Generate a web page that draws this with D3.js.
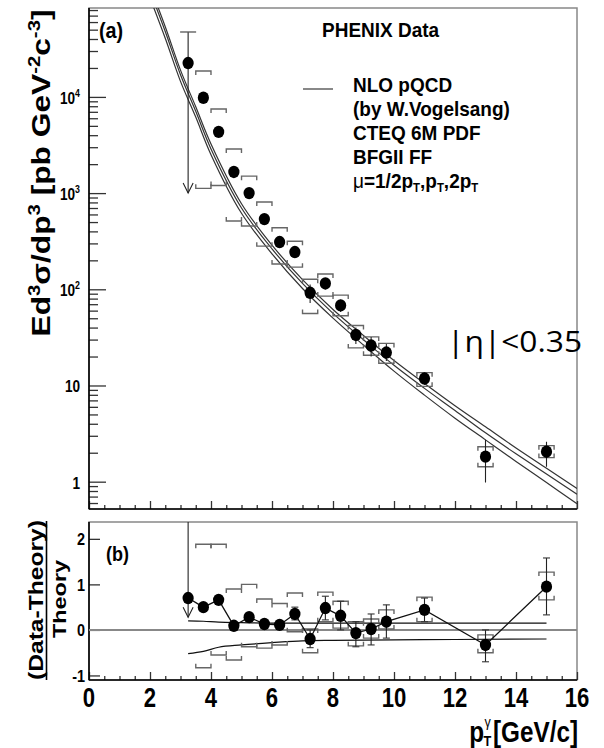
<!DOCTYPE html>
<html>
<head>
<meta charset="utf-8">
<script src="https://cdnjs.cloudflare.com/ajax/libs/d3/7.8.5/d3.min.js"></script>
<style>
body { margin: 0; background: #fff; }
svg { display: block; }
text { font-family: "Liberation Sans", Arial, sans-serif; font-weight: bold; fill: #000; }
</style>
</head>
<body>
<div class="chart"></div>
<script>
var width = 604, height = 748;
var left = 89, right = 577;
var topA = 8, bottomA = 509;
var topB = 522, bottomB = 680;

// PHENIX direct photon points
var pt = [3.25, 3.75, 4.25, 4.75, 5.25, 5.75, 6.25, 6.75, 7.25, 7.75, 8.25, 8.75, 9.25, 9.75, 11, 13, 15];
var xsec = [22500, 9800, 4330, 1660, 1000, 537, 310, 244, 92, 115, 68, 33.5, 26, 22, 11.8, 1.82, 2.05];
var statLo = [1000, 9000, 4000, 1550, 930, 500, 285, 220, 72, 100, 58, 27, 20, 18, 10.2, 0.98, 1.43];
var statHi = [47300, 10700, 4700, 1780, 1080, 575, 335, 270, 112, 130, 78, 40, 32, 27, 13.6, 2.73, 2.6];
var sysLo = [null, 1120, 1200, 512, 455, 281, 183, 170, 56, 85, 53, 24.6, 20.6, 17, 9.8, 1.43, 1.78];
var sysHi = [null, 18600, 7500, 2870, 1500, 807, 437, 316, 127, 144, 87, 42, 32, 27.4, 13.6, 2.31, 2.37];

// NLO pQCD curves for the three scales
var thPt = [2, 2.5, 3, 3.5, 4, 5, 6, 7, 8, 9, 10, 11, 12, 13, 14, 15, 16];
var thHigh = [141000, 53700, 19000, 7900, 3240, 776, 288, 126, 61.7, 33.1, 18.2, 10.5, 6.17, 3.72, 2.24, 1.38, 0.85];
var thMid = [126000, 47900, 17000, 7080, 2880, 700, 263, 115, 56.2, 29.9, 16.2, 9.33, 5.50, 3.22, 1.95, 1.20, 0.74];
var thLow = [107000, 40700, 14500, 6170, 2510, 617, 234, 102, 50.1, 26.3, 14.1, 7.94, 4.57, 2.72, 1.62, 0.98, 0.59];

// (Data-Theory)/Theory
var ratio = [0.70, 0.50, 0.66, 0.09, 0.28, 0.13, 0.11, 0.35, -0.20, 0.48, 0.31, -0.07, 0.02, 0.18, 0.44, -0.33, 0.95];
var rStatLo = [0.28, 0.45, 0.61, 0.04, 0.22, 0.08, 0.04, 0.22, -0.39, 0.22, 0.00, -0.37, -0.33, -0.18, 0.18, -0.70, 0.33];
var rStatHi = [2.6, 0.55, 0.71, 0.14, 0.34, 0.18, 0.18, 0.50, 0.00, 0.74, 0.63, 0.18, 0.35, 0.55, 0.70, 0.00, 1.58];
var rSysLo = [null, -0.83, -0.55, -0.66, -0.37, -0.40, -0.33, -0.04, -0.50, 0.18, 0.04, -0.35, -0.18, 0.02, 0.18, -0.50, 0.66];
var rSysHi = [null, 1.88, 1.88, 0.90, 1.00, 0.68, 0.58, 0.81, 0.02, 0.83, 0.63, 0.18, 0.24, 0.44, 0.72, -0.11, 1.27];

// scale band relative to the central theory
var bandPt = [3.25, 3.75, 4.25, 5, 6, 7, 8, 10, 12, 15];
var bandHigh = [0.20, 0.19, 0.17, 0.16, 0.15, 0.15, 0.15, 0.15, 0.15, 0.15];
var bandLow = [-0.52, -0.47, -0.38, -0.33, -0.28, -0.24, -0.23, -0.22, -0.21, -0.20];

var xTicks = [0, 2, 4, 6, 8, 10, 12, 14, 16];
var yTicksA = [1, 10, 100, 1000, 10000];
var yLabelsA = [["1", ""], ["10", ""], ["10", "2"], ["10", "3"], ["10", "4"]];
var yTicksB = [-1, 0, 1, 2];

var legendLines = ["NLO pQCD", "(by W.Vogelsang)", "CTEQ 6M PDF", "BFGII FF"];

var svg = d3.select(".chart").append("svg")
    .attr("width", width)
    .attr("height", height);

svg.append("rect").attr("width", width).attr("height", height).attr("fill", "#fff");

var x = d3.scaleLinear().domain([0, 16]).range([left, right]);
var yA = d3.scaleLog().domain([0.52, 84000]).range([bottomA, topA]);
var yB = d3.scaleLinear().domain([-1.1, 2.37]).range([bottomB, topB]);

var defs = svg.append("defs");
defs.append("clipPath").attr("id", "clipA").append("rect")
    .attr("x", left).attr("y", topA).attr("width", right - left).attr("height", bottomA - topA);
defs.append("clipPath").attr("id", "clipB").append("rect")
    .attr("x", left).attr("y", topB).attr("width", right - left).attr("height", bottomB - topB);

// squeezed text helper (ROOT fonts look narrow here)
var txt = function(g, px, py, sx, fs, anchor) {
    return g.append("text")
        .attr("transform", "translate(" + px + "," + py + ") scale(" + sx + ",1)")
        .attr("text-anchor", anchor)
        .style("font-size", fs + "px");
};

var styleAxis = function(g) {
    g.select(".domain").remove();
    g.selectAll(".tick line").attr("stroke", "#333").attr("stroke-width", 1.3);
};

// ---------- panel (a) ----------
svg.append("rect")
    .attr("x", left).attr("y", topA)
    .attr("width", right - left).attr("height", bottomA - topA)
    .attr("fill", "none").attr("stroke", "#888").attr("stroke-width", 1.5);

svg.append("g")
    .attr("transform", "translate(" + left + ",0)")
    .call(d3.axisRight(yA).tickValues(yTicksA).tickSize(17).tickFormat(""))
    .call(styleAxis);
svg.append("g")
    .attr("transform", "translate(" + left + ",0)")
    .call(d3.axisRight(yA).tickValues(yA.ticks().filter(function(d) {
        return yTicksA.indexOf(d) < 0;
    })).tickSize(9).tickFormat(""))
    .call(styleAxis);
svg.append("g")
    .attr("transform", "translate(0," + bottomA + ")")
    .call(d3.axisTop(x).tickValues(xTicks).tickSize(8).tickFormat(""))
    .call(styleAxis);
svg.append("g")
    .attr("transform", "translate(0," + bottomA + ")")
    .call(d3.axisTop(x).tickValues(d3.range(0.5, 16, 0.5).filter(function(d) {
        return d % 2 !== 0;
    })).tickSize(4).tickFormat(""))
    .call(styleAxis);

svg.append("line").attr("x1", left).attr("x2", left).attr("y1", topA).attr("y2", bottomA)
    .attr("stroke", "#000").attr("stroke-width", 1.6);
svg.append("line").attr("x1", left).attr("x2", right).attr("y1", bottomA).attr("y2", bottomA)
    .attr("stroke", "#000").attr("stroke-width", 1.6);

yTicksA.forEach(function(v, i) {
    var t = txt(svg, 80, yA(v) + 7, 0.8, 17, "end");
    t.append("tspan").text(yLabelsA[i][0]);
    if (yLabelsA[i][1]) {
        t.append("tspan").attr("dy", -7).style("font-size", "11px").text(yLabelsA[i][1]);
    }
});

var yTitle = svg.append("text")
    .attr("transform", "translate(50,173) rotate(-90)")
    .attr("text-anchor", "middle")
    .attr("textLength", 327)
    .attr("lengthAdjust", "spacingAndGlyphs")
    .style("font-size", "25px");
yTitle.append("tspan").text("Ed");
yTitle.append("tspan").attr("dy", -10).style("font-size", "16px").text("3");
yTitle.append("tspan").attr("dy", 10).text("σ/dp");
yTitle.append("tspan").attr("dy", -10).style("font-size", "16px").text("3");
yTitle.append("tspan").attr("dy", 10).text(" [pb GeV");
yTitle.append("tspan").attr("dy", -10).style("font-size", "16px").text("-2");
yTitle.append("tspan").attr("dy", 10).text("c");
yTitle.append("tspan").attr("dy", -10).style("font-size", "16px").text("-3");
yTitle.append("tspan").attr("dy", 10).text("]");

var plotA = svg.append("g").attr("clip-path", "url(#clipA)");

var theoryLine = d3.line()
    .x(function(d) { return x(d[0]); })
    .y(function(d) { return yA(d[1]); })
    .curve(d3.curveCatmullRom.alpha(0.5));

[thHigh, thMid, thLow].forEach(function(series) {
    plotA.append("path")
        .datum(thPt.map(function(p, i) { return [p, series[i]]; }))
        .attr("d", theoryLine)
        .attr("fill", "none")
        .attr("stroke", "#333")
        .attr("stroke-width", 1.2);
});

var bracket = function(g, cx, cy, dir) {
    g.append("path")
        .attr("d", "M" + (cx - 7.6) + "," + (cy + dir * 4) + "V" + cy + "H" + (cx + 7.6) + "V" + (cy + dir * 4))
        .attr("fill", "none").attr("stroke", "#666").attr("stroke-width", 1.4);
};

pt.forEach(function(p, i) {
    if (sysHi[i] !== null) {
        bracket(plotA, x(p), yA(sysHi[i]), 1);
        bracket(plotA, x(p), yA(sysLo[i]), -1);
    }
    plotA.append("line")
        .attr("x1", x(p)).attr("x2", x(p))
        .attr("y1", yA(statLo[i])).attr("y2", yA(statHi[i]))
        .attr("stroke", "#222").attr("stroke-width", 1.1);
});

// first point: upper limit arrow and cap
plotA.append("path")
    .attr("d", "M" + (x(pt[0]) - 5) + "," + (yA(statLo[0]) - 10) + "L" + x(pt[0]) + "," + yA(statLo[0]) + "L" + (x(pt[0]) + 5) + "," + (yA(statLo[0]) - 10))
    .attr("fill", "none").attr("stroke", "#222").attr("stroke-width", 1.1);
plotA.append("line")
    .attr("x1", x(pt[0]) - 8).attr("x2", x(pt[0]) + 8)
    .attr("y1", yA(statHi[0])).attr("y2", yA(statHi[0]))
    .attr("stroke", "#555").attr("stroke-width", 1.3);

plotA.selectAll(".dotA")
    .data(pt)
    .enter().append("ellipse")
    .attr("class", "dotA")
    .attr("cx", function(d) { return x(d); })
    .attr("cy", function(d, i) { return yA(xsec[i]); })
    .attr("rx", 5.6).attr("ry", 6.2)
    .attr("fill", "#000");

// labels in panel (a)
txt(svg, 99, 38, 0.9, 22, "start").text("(a)");
txt(svg, 322, 37, 0.95, 20, "start").text("PHENIX Data");
svg.append("line").attr("x1", 303).attr("x2", 333).attr("y1", 89).attr("y2", 89)
    .attr("stroke", "#555").attr("stroke-width", 1.4);
legendLines.forEach(function(s, i) {
    txt(svg, 353, 92 + i * 24, 0.95, 20, "start").text(s);
});
var mu = txt(svg, 353, 188, 0.95, 20, "start");
mu.append("tspan").style("font-weight", "normal").text("μ");
mu.append("tspan").text("=1/2p");
mu.append("tspan").attr("dy", 4).style("font-size", "12px").text("T");
mu.append("tspan").attr("dy", -4).text(",p");
mu.append("tspan").attr("dy", 4).style("font-size", "12px").text("T");
mu.append("tspan").attr("dy", -4).text(",2p");
mu.append("tspan").attr("dy", 4).style("font-size", "12px").text("T");

svg.append("text")
    .attr("x", 447).attr("y", 352)
    .attr("textLength", 135)
    .attr("lengthAdjust", "spacingAndGlyphs")
    .style("font-family", "'Open Sans', 'Noto Sans', sans-serif")
    .style("font-weight", "normal")
    .style("font-size", "29px")
    .text("|η|<0.35");

// ---------- panel (b) ----------
svg.append("rect")
    .attr("x", left).attr("y", topB)
    .attr("width", right - left).attr("height", bottomB - topB)
    .attr("fill", "none").attr("stroke", "#888").attr("stroke-width", 1.5);

svg.append("g")
    .attr("transform", "translate(" + left + ",0)")
    .call(d3.axisRight(yB).tickValues(yTicksB).tickSize(11).tickFormat(""))
    .call(styleAxis);
svg.append("g")
    .attr("transform", "translate(0," + bottomB + ")")
    .call(d3.axisTop(x).tickValues(xTicks).tickSize(8).tickFormat(""))
    .call(styleAxis);
svg.append("g")
    .attr("transform", "translate(0," + bottomB + ")")
    .call(d3.axisTop(x).tickValues(d3.range(0.5, 16, 0.5).filter(function(d) {
        return d % 2 !== 0;
    })).tickSize(4).tickFormat(""))
    .call(styleAxis);

svg.append("line").attr("x1", left).attr("x2", left).attr("y1", topB).attr("y2", bottomB)
    .attr("stroke", "#000").attr("stroke-width", 1.6);
svg.append("line").attr("x1", left).attr("x2", right).attr("y1", bottomB).attr("y2", bottomB)
    .attr("stroke", "#000").attr("stroke-width", 1.6);

yTicksB.forEach(function(v) {
    txt(svg, 85, yB(v) + 6.5, 0.85, 17, "end").text(v);
});
xTicks.forEach(function(v) {
    txt(svg, x(v), 707, 0.82, 27, "middle").text(v);
});

// p_T^gamma [GeV/c]
txt(svg, 578, 742, 0.81, 30, "end").text("[GeV/c]");
txt(svg, 484, 742, 0.81, 30, "end").text("p");
txt(svg, 483.5, 746, 0.85, 15, "start").text("T");
txt(svg, 484.5, 727, 0.9, 14, "start").style("font-weight", "normal").text("γ");

svg.append("text")
    .attr("transform", "translate(43,600) rotate(-90)")
    .attr("text-anchor", "middle")
    .attr("textLength", 160)
    .attr("lengthAdjust", "spacingAndGlyphs")
    .style("font-size", "20px")
    .text("(Data-Theory)");
svg.append("line").attr("x1", 46.5).attr("x2", 46.5).attr("y1", 521).attr("y2", 680)
    .attr("stroke", "#000").attr("stroke-width", 1.6);
svg.append("text")
    .attr("transform", "translate(66,599) rotate(-90)")
    .attr("text-anchor", "middle")
    .attr("textLength", 78)
    .attr("lengthAdjust", "spacingAndGlyphs")
    .style("font-size", "18px")
    .text("Theory");

txt(svg, 106, 561, 0.9, 20, "start").text("(b)");

var plotB = svg.append("g").attr("clip-path", "url(#clipB)");

plotB.append("line")
    .attr("x1", left).attr("x2", right).attr("y1", yB(0)).attr("y2", yB(0))
    .attr("stroke", "#888").attr("stroke-width", 2);

var bandLine = d3.line()
    .x(function(d) { return x(d[0]); })
    .y(function(d) { return yB(d[1]); })
    .curve(d3.curveMonotoneX);
[bandHigh, bandLow].forEach(function(series) {
    plotB.append("path")
        .datum(bandPt.map(function(p, i) { return [p, series[i]]; }))
        .attr("d", bandLine)
        .attr("fill", "none").attr("stroke", "#111").attr("stroke-width", 1.2);
});

pt.forEach(function(p, i) {
    if (rSysHi[i] !== null) {
        bracket(plotB, x(p), yB(rSysHi[i]), 1);
        bracket(plotB, x(p), yB(rSysLo[i]), -1);
    }
    plotB.append("line")
        .attr("x1", x(p)).attr("x2", x(p))
        .attr("y1", yB(rStatLo[i])).attr("y2", yB(rStatHi[i]))
        .attr("stroke", "#222").attr("stroke-width", 1.1);
    if (i > 0) {
        [rStatLo[i], rStatHi[i]].forEach(function(v) {
            plotB.append("line")
                .attr("x1", x(p) - 3.5).attr("x2", x(p) + 3.5)
                .attr("y1", yB(v)).attr("y2", yB(v))
                .attr("stroke", "#333").attr("stroke-width", 1.1);
        });
    }
});
plotB.append("path")
    .attr("d", "M" + (x(pt[0]) - 5) + "," + (yB(rStatLo[0]) - 10) + "L" + x(pt[0]) + "," + yB(rStatLo[0]) + "L" + (x(pt[0]) + 5) + "," + (yB(rStatLo[0]) - 10))
    .attr("fill", "none").attr("stroke", "#222").attr("stroke-width", 1.1);

plotB.append("path")
    .datum(pt.map(function(p, i) { return [p, ratio[i]]; }))
    .attr("d", d3.line()
        .x(function(d) { return x(d[0]); })
        .y(function(d) { return yB(d[1]); }))
    .attr("fill", "none").attr("stroke", "#111").attr("stroke-width", 1.3);

plotB.selectAll(".dotB")
    .data(pt)
    .enter().append("ellipse")
    .attr("class", "dotB")
    .attr("cx", function(d) { return x(d); })
    .attr("cy", function(d, i) { return yB(ratio[i]); })
    .attr("rx", 5.6).attr("ry", 6.2)
    .attr("fill", "#000");
</script>
</body>
</html>
